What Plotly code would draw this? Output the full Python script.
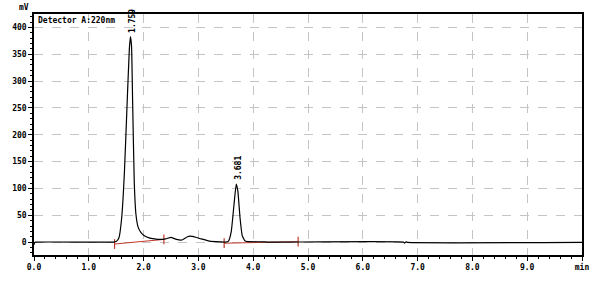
import plotly.graph_objects as go

# Chromatogram trace (time in min, signal in mV)
time_min = [0.0, 0.01, 0.03, 1.45, 1.50, 1.55, 1.60, 1.65, 1.70, 1.74, 1.76, 1.78, 1.80, 1.83,
            1.86, 1.90, 1.95, 2.00, 2.10, 2.20, 2.30, 2.40, 2.50, 2.55, 2.60, 2.70, 2.80,
            2.85, 2.95, 3.05, 3.20, 3.40, 3.50, 3.55, 3.60, 3.65, 3.69, 3.72, 3.76, 3.80,
            3.85, 3.90, 4.20, 4.25, 6.74, 6.76, 6.79, 6.82, 10.0]
signal_mv = [-5, -1, 0, 0, 1, 8, 45, 130, 260, 360, 383, 365, 260, 110,
             52, 28, 18, 13, 8, 6, 5, 6, 9, 7, 5, 4, 10,
             11, 9, 6, 2, 0.5, 0, 2, 20, 70, 108, 95, 45, 12,
             2, 1, 0.5, 0, 0, -1.8, 0.5, -0.6, -0.6]

# Integration baselines (start/end time, start/end level)
base1_t = [1.47, 2.37]
base1_v = [-3.5, 5.0]
base2_t = [3.47, 4.82]
base2_v = [-2.0, 0.8]

# Peak labels
peak_t = [1.759, 3.681]
peak_v = [383, 108]
peak_labels = ["1.759", "3.681"]

x_ticks = [0, 1, 2, 3, 4, 5, 6, 7, 8, 9, 10]
x_ticktext = ["0.0", "1.0", "2.0", "3.0", "4.0", "5.0", "6.0", "7.0", "8.0", "9.0", "min"]
y_ticks = [0, 50, 100, 150, 200, 250, 300, 350, 400]

FONT = dict(family="DejaVu Sans Mono", size=8, color="black", weight="bold")
RED = "#c0392b"

fig = go.Figure()
for bt, bv in ((base1_t, base1_v), (base2_t, base2_v)):
    fig.add_trace(go.Scatter(x=bt, y=bv, mode="lines+markers",
                             line=dict(color=RED, width=1),
                             marker=dict(symbol="line-ns", size=7, line=dict(color=RED, width=1.2)),
                             hoverinfo="skip"))
fig.add_trace(go.Scatter(x=time_min, y=signal_mv, mode="lines",
                         line=dict(color="black", width=1.2, shape="spline", smoothing=0.4)))

for t, v, lab in zip(peak_t, peak_v, peak_labels):
    fig.add_annotation(x=t, y=v, text=lab, textangle=-90, showarrow=False,
                       xanchor="center", yanchor="bottom", yshift=2, xshift=2, font=FONT)

fig.add_annotation(xref="paper", yref="paper", x=0.003, y=1.0, text="Detector A:220nm",
                   showarrow=False, xanchor="left", yanchor="top", font=FONT)
fig.add_annotation(xref="paper", yref="paper", x=-0.018, y=1.0, text="mV",
                   showarrow=False, xanchor="center", yanchor="bottom", font=FONT)

fig.update_layout(
    width=608, height=293,
    margin=dict(l=32, r=26, t=13, b=38),
    paper_bgcolor="white", plot_bgcolor="white",
    showlegend=False,
    font=FONT,
)
fig.update_xaxes(range=[0, 10], tickvals=x_ticks, ticktext=x_ticktext,
                 showline=True, linecolor="black", linewidth=1.5, mirror=True,
                 ticks="outside", ticklen=4, tickcolor="black",
                 minor=dict(dtick=0.2, ticks="outside", ticklen=2, tickcolor="black", showgrid=False),
                 showgrid=True, gridcolor="#c4c4c4", griddash="dash", gridwidth=1,
                 zeroline=False, tickfont=FONT)
fig.update_yaxes(range=[-24, 425], tickvals=y_ticks,
                 showline=True, linecolor="black", linewidth=1.5, mirror=True,
                 ticks="outside", ticklen=4, tickcolor="black",
                 minor=dict(dtick=10, ticks="outside", ticklen=2, tickcolor="black", showgrid=False),
                 showgrid=True, gridcolor="#c4c4c4", griddash="dash", gridwidth=1,
                 zeroline=False, tickfont=FONT)

fig.write_html("out.html")
